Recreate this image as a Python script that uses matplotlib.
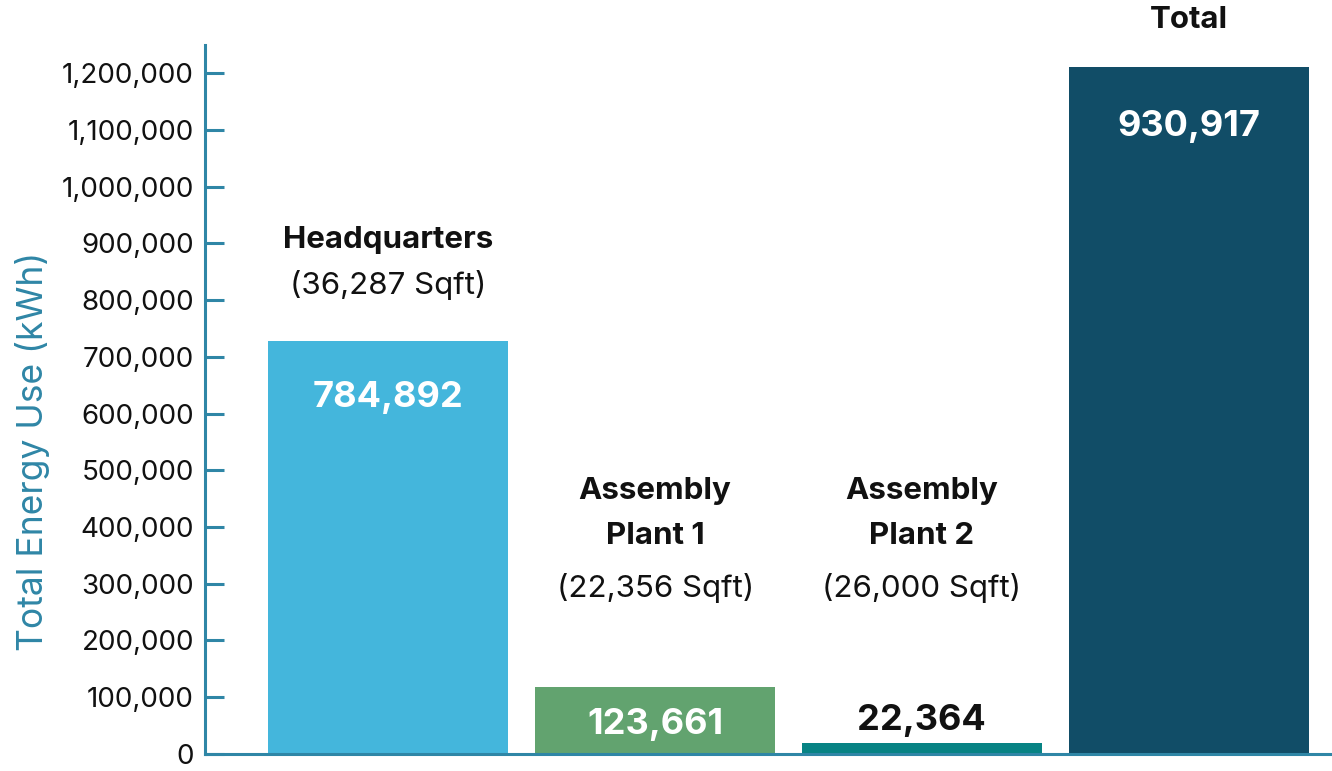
import matplotlib

matplotlib.use("Agg")
import matplotlib.pyplot as plt
from matplotlib.ticker import FuncFormatter

# bar data (heights as drawn on the axis; printed labels as shown)
sites = ["Headquarters", "Assembly\nPlant 1", "Assembly\nPlant 2", "Total"]
areas = ["(36,287 Sqft)", "(22,356 Sqft)", "(26,000 Sqft)", ""]
bar_heights = [728000, 117500, 19500, 1211000]
value_labels = ["784,892", "123,661", "22,364", "930,917"]
colors = ["#44b6dc", "#62a36f", "#078384", "#114d67"]

AXIS_COLOR = "#2f86a6"
plt.rcParams["font.family"] = ["Inter", "DejaVu Sans"]

fig = plt.figure(figsize=(13.32, 7.71), dpi=100)
ax = fig.add_axes([0.1539, 0.0224, 0.8461, 0.9192])

xs = list(range(len(sites)))
ax.bar(xs, bar_heights, width=0.9, color=colors, zorder=2)

ax.set_xlim(-0.688, 3.538)
ax.set_ylim(0, 1250000)
ax.set_yticks(range(0, 1200001, 100000))
ax.yaxis.set_major_formatter(FuncFormatter(lambda v, _: f"{int(v):,}"))
ax.set_xticks([])

for side in ("top", "right"):
    ax.spines[side].set_visible(False)
for side in ("left", "bottom"):
    ax.spines[side].set_color(AXIS_COLOR)
    ax.spines[side].set_linewidth(2.2)

ax.tick_params(axis="y", direction="in", length=14, width=2.2, color=AXIS_COLOR,
               labelsize=20, pad=8, labelcolor="#111111")
ax.set_ylabel("Total Energy Use (kWh)", color=AXIS_COLOR, fontsize=25.5)
ax.yaxis.set_label_coords(-0.1375, 0.427)

# value labels: white inside bars, dark above the thin one
value_y = [629000, 51000, 59000, 1107000]
value_color = ["white", "white", "#111111", "white"]
for x, y, txt, c in zip(xs, value_y, value_labels, value_color):
    ax.text(x, y, txt, ha="center", va="center", fontsize=26, fontweight="bold", color=c)

# site names + floor areas above the bars
name_y = [906000, 424000, 424000, 1294000]
area_y = [827000, 292000, 292000, None]
for x, name, area, ny, ay in zip(xs, sites, areas, name_y, area_y):
    ax.text(x, ny, name, ha="center", va="center", fontsize=22.5, fontweight="bold",
            color="#111111", linespacing=1.75, clip_on=False)
    if area:
        ax.text(x, ay, area, ha="center", va="center", fontsize=22.5, color="#111111")

fig.savefig("out.png", dpi=100)
